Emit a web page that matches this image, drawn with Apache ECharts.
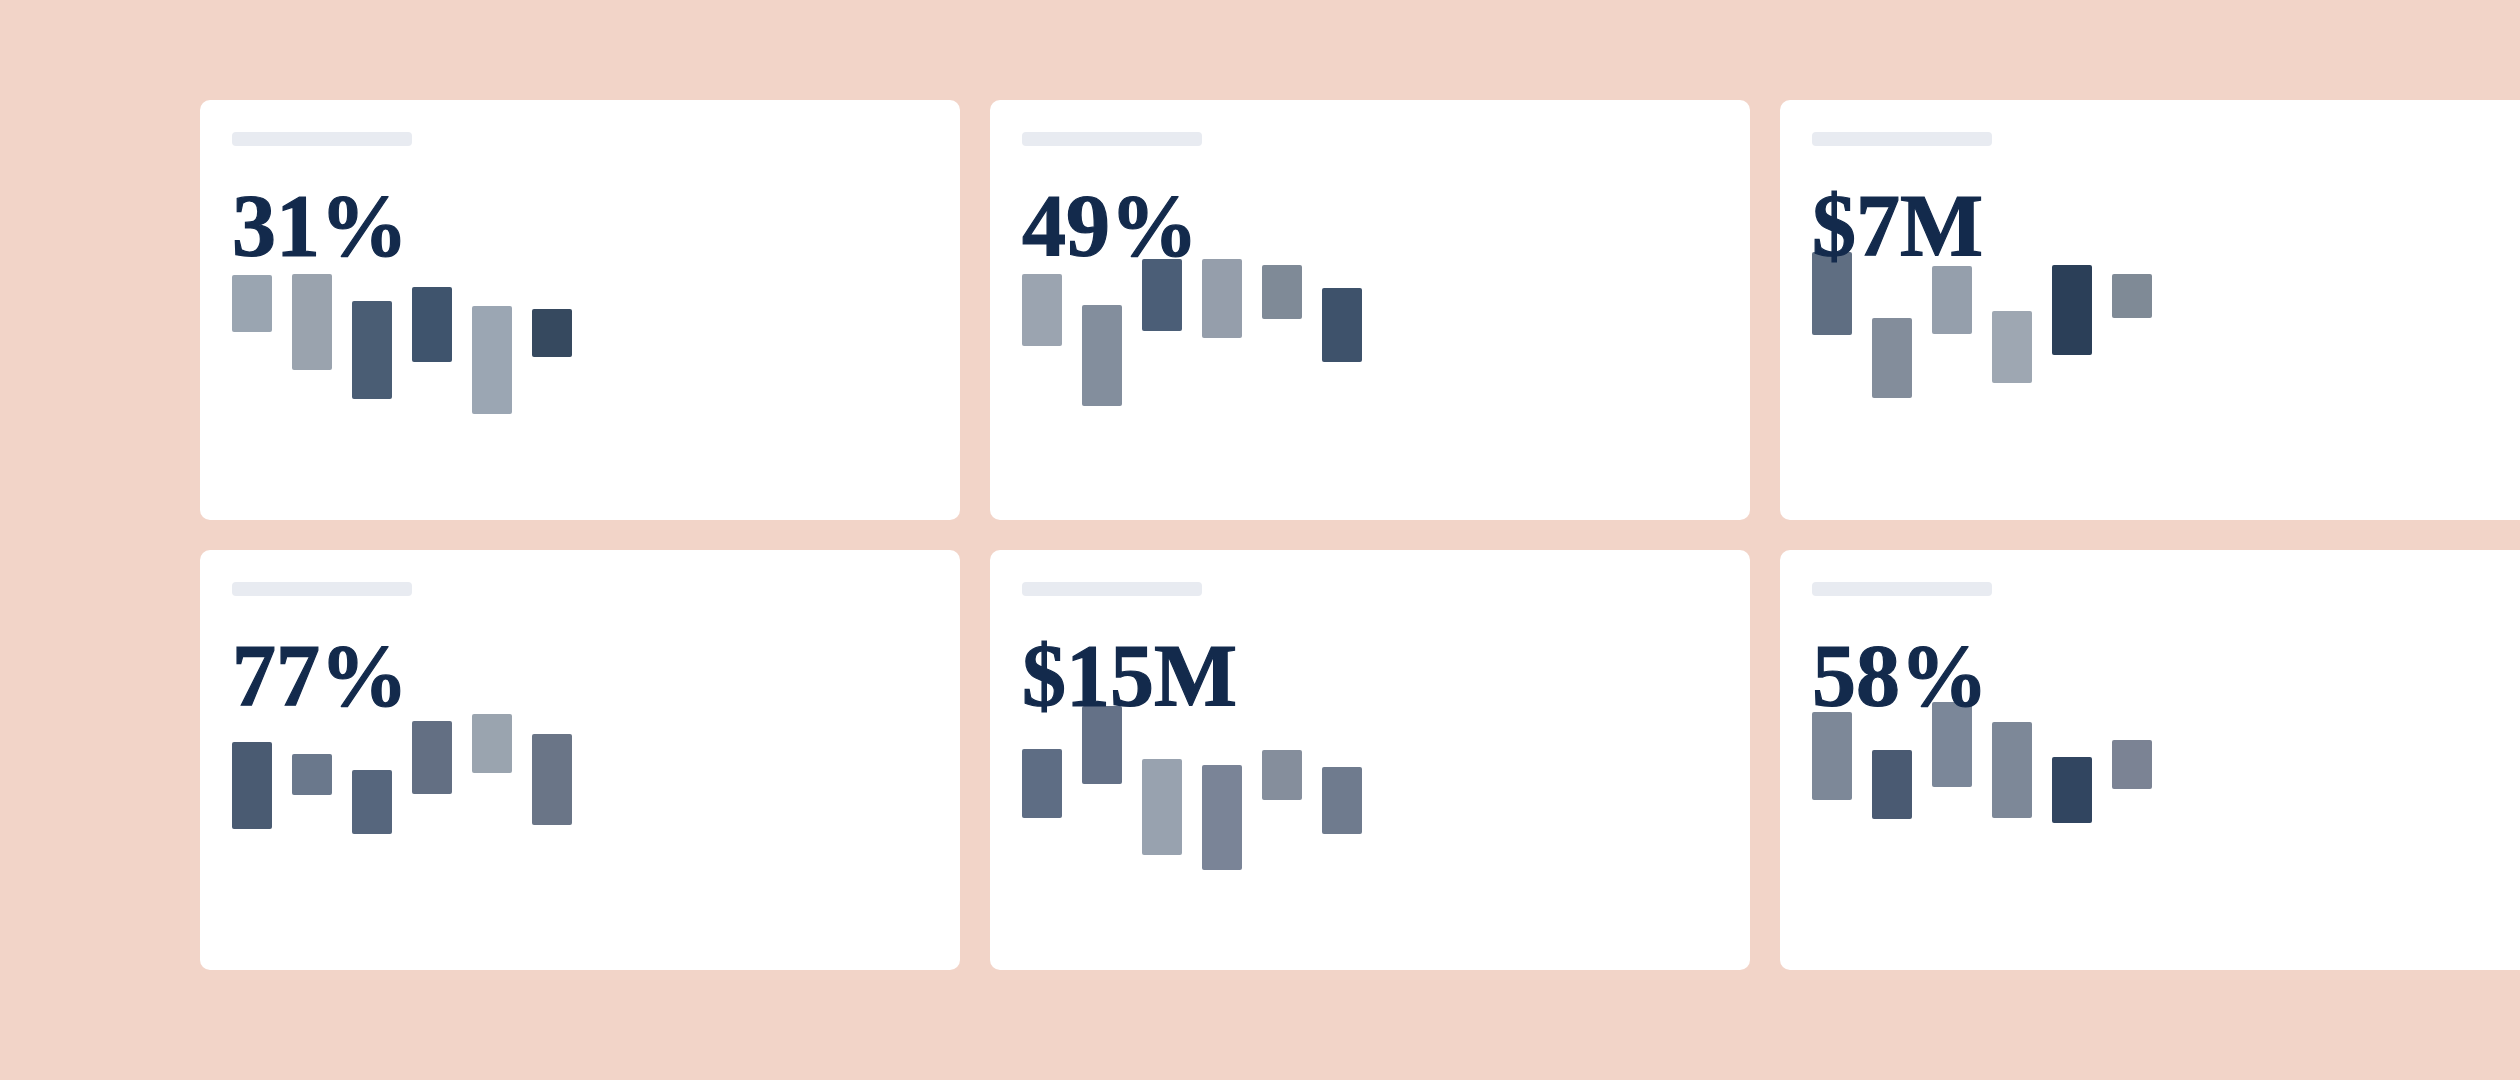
<!DOCTYPE html>
<html>
<head>
<meta charset="utf-8">
<style>
  html, body { margin: 0; padding: 0; background: #f2d4c8; overflow: hidden; }
  #chart { width: 2520px; height: 1080px; }
</style>
<script src="https://cdn.jsdelivr.net/npm/echarts@6/dist/echarts.min.js"></script>
</head>
<body>
<div id="chart"></div>
<script>
// six floating bars per card, value = low / high end of each bar
const categories = ['1', '2', '3', '4', '5', '6'];
const kpiLabels = ['31%', '49%', '$7M', '77%', '$15M', '58%'];

const card1Low  = [54, 35, 20.5, 39, 13, 41.5];
const card1High = [82.5, 83, 69.5, 76.5, 67, 65.5];
const card2Low  = [47, 17, 54.5, 51, 60.5, 39];
const card2High = [83, 67.5, 90.5, 90.5, 87.5, 76];
const card3Low  = [52.5, 21, 53, 28.5, 42.5, 61];
const card3High = [94, 61, 87, 64.5, 87.5, 83];
const card4Low  = [30.5, 47.5, 28, 48, 58.5, 32.5];
const card4High = [74, 68, 60, 84.5, 88, 78];
const card5Low  = [36, 53, 17.5, 10, 45, 28];
const card5High = [70.5, 92, 65.5, 62.5, 70, 61.5];
const card6Low  = [45, 35.5, 51.5, 36, 33.5, 50.5];
const card6High = [89, 70, 94, 84, 66.5, 75];

const card1Colors = ['#9aa5b1', '#9aa3ae', '#4a5d74', '#3f546d', '#9ba6b3', '#36495f'];
const card2Colors = ['#9ba4b0', '#838e9d', '#4b5e77', '#959eab', '#7f8a97', '#3e526b'];
const card3Colors = ['#5f6e82', '#838d9b', '#959fac', '#9ea7b2', '#2b3f58', '#7f8a96'];
const card4Colors = ['#4a5b72', '#6a788c', '#56667d', '#636f83', '#9aa4af', '#6a7587'];
const card5Colors = ['#5e6d84', '#647187', '#98a2af', '#7a8497', '#858e9c', '#6f7b8e'];
const card6Colors = ['#7d8898', '#4a5a72', '#7b8799', '#7d8898', '#314560', '#7b8394'];

const lows = [card1Low, card2Low, card3Low, card4Low, card5Low, card6Low];
const highs = [card1High, card2High, card3High, card4High, card5High, card6High];
const colors = [card1Colors, card2Colors, card3Colors, card4Colors, card5Colors, card6Colors];

// layout
const cardLefts = [200, 990, 1780];
const cardTops = [100, 550];
const cardW = 760, cardH = 420;

let myChart = echarts.init(document.getElementById('chart'));

let grids = [], xAxes = [], yAxes = [], series = [], graphics = [];

for (let i = 0; i < 6; i++) {
	let cx = cardLefts[i % 3];
	let cy = cardTops[Math.floor(i / 3)];

	graphics.push({
		type: 'rect',
		z: 0,
		shape: { x: cx, y: cy, width: cardW, height: cardH, r: 10 },
		style: { fill: '#ffffff' },
		silent: true
	});
	graphics.push({
		type: 'rect',
		z: 1,
		shape: { x: cx + 32, y: cy + 32, width: 180, height: 14, r: 4 },
		style: { fill: '#e8ebf1' },
		silent: true
	});
	graphics.push({
		type: 'text',
		z: 100,
		style: {
			text: kpiLabels[i],
			x: cx + 32,
			y: cy + 132,
			font: 'bold 88px "Liberation Serif", "Times New Roman", serif',
			fill: '#132a4c',
			stroke: '#132a4c',
			lineWidth: 1.2,
			align: 'left',
			verticalAlign: 'middle'
		},
		silent: true
	});

	grids.push({ left: cx + 22, top: cy + 140, width: 360, height: 200 });
	xAxes.push({
		type: 'category',
		gridIndex: i,
		data: categories,
		show: false
	});
	yAxes.push({
		type: 'value',
		gridIndex: i,
		min: 0,
		max: 100,
		show: false
	});
	series.push({
		type: 'bar',
		xAxisIndex: i,
		yAxisIndex: i,
		stack: 'card' + i,
		barWidth: 40,
		silent: true,
		itemStyle: { color: 'transparent' },
		data: lows[i]
	});
	series.push({
		type: 'bar',
		xAxisIndex: i,
		yAxisIndex: i,
		stack: 'card' + i,
		barWidth: 40,
		silent: true,
		data: highs[i].map((h, j) => ({
			value: +(h - lows[i][j]).toFixed(2),
			itemStyle: { color: colors[i][j], borderRadius: 2 }
		}))
	});
}

myChart.setOption({
	backgroundColor: '#f2d4c8',
	animation: false,
	tooltip: { show: false },
	grid: grids,
	xAxis: xAxes,
	yAxis: yAxes,
	graphic: { elements: graphics },
	series: series
});
</script>
</body>
</html>
